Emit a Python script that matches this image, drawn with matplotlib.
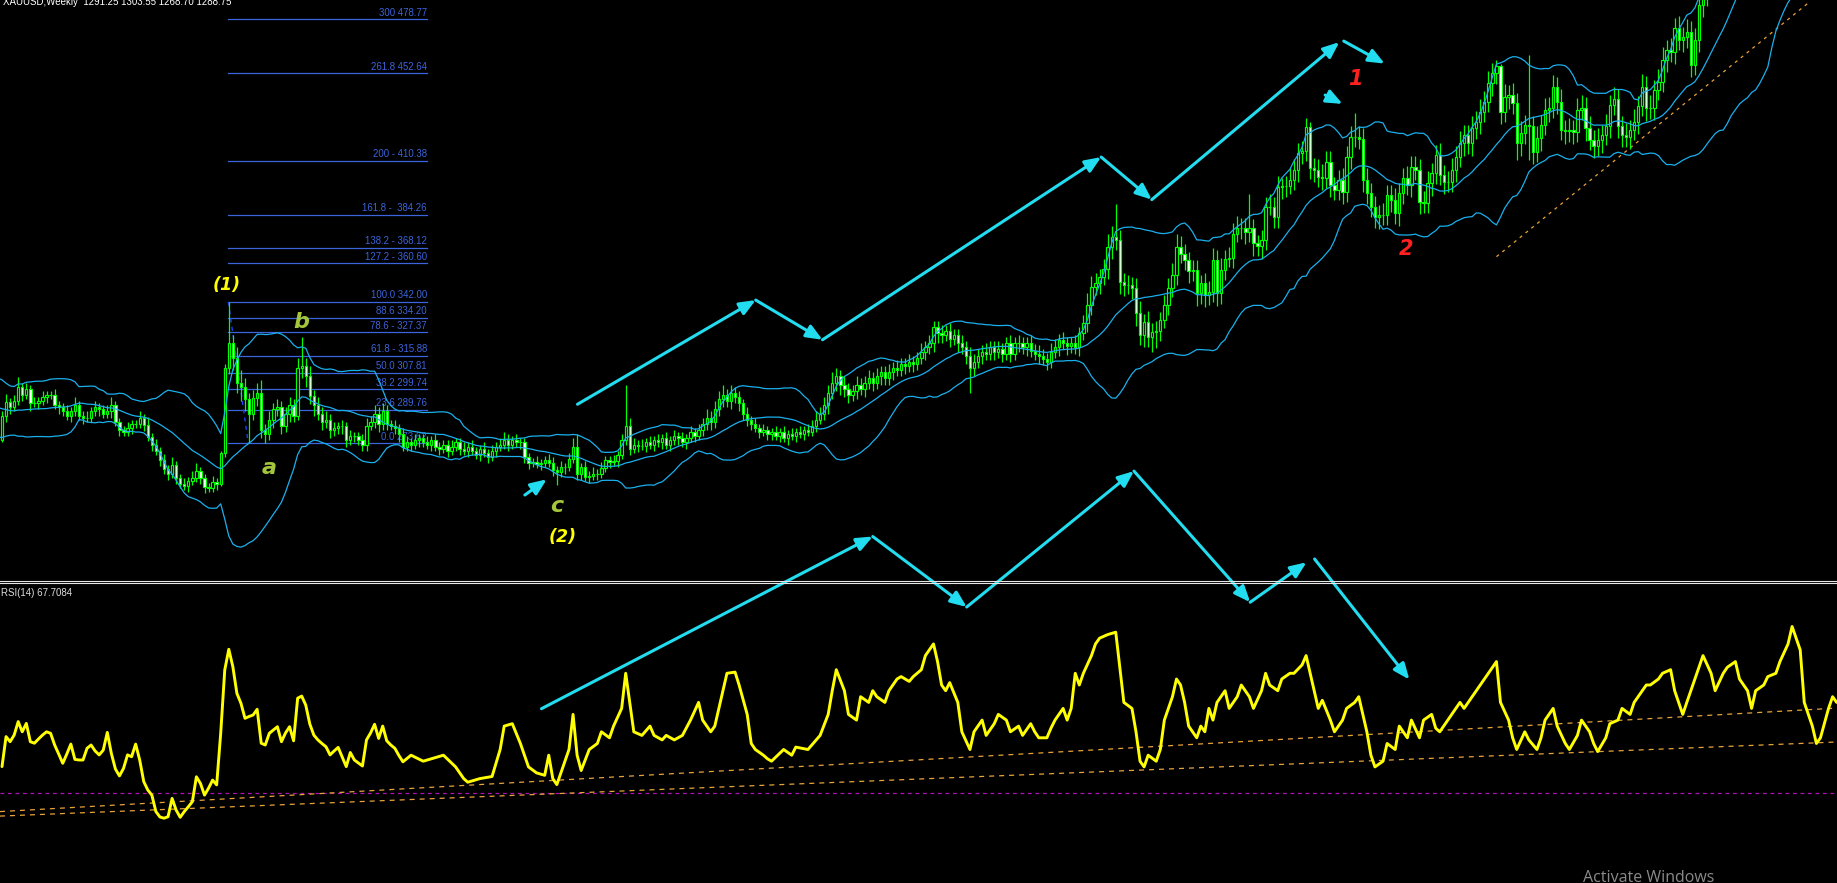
import numpy as np
import pandas as pd
import matplotlib
matplotlib.use("Agg")
import matplotlib.pyplot as plt
from matplotlib.lines import Line2D
from matplotlib.patches import FancyArrowPatch

W, H, DPI = 1837, 883, 100
PX_PER_WEEK = 4.05
X_OFFSET_PX = 2.0
TOP_PANEL_PX = 579
RSI_TOP_PX = 584
PRICE_TOP, PRICE_BOTTOM = 488.08, 207.96
RSI_TOP = (H - RSI_TOP_PX) / 3.0

# ------------------------------------------------------------------ data
first_week = -20
closes = [
    298, 303, 300, 296, 294, 297, 295, 291, 289, 293,
    296, 294, 291, 288, 289, 286, 284, 281, 278, 275,
    287, 293.6, 291, 294, 300.8, 297, 300, 293, 293, 294,
    296, 297, 297, 292, 291, 289, 287, 289, 292, 287,
    286, 286, 289, 291, 290, 288, 289, 292, 284, 280,
    279, 281, 283, 283, 286, 282.5, 276.5, 272.8, 270, 265.5,
    261, 259, 263, 257, 254, 253, 255.5, 257, 260, 257,
    252.5, 252, 255, 254, 269, 310, 322, 315, 303, 301,
    295, 288, 295.5, 298, 280, 278, 285, 290, 291, 282,
    288, 292, 287, 310, 311, 306, 296.5, 292, 288, 284,
    285, 280, 281, 282, 282, 275, 277, 277, 275, 273,
    282, 284, 288, 283, 289, 283, 282, 281, 278, 272,
    274, 273, 275, 276, 274, 273, 275, 272, 271, 273,
    270, 272, 274, 271, 270, 272, 270, 268, 271, 269,
    267, 270, 272, 273, 275, 273, 275, 274, 274, 267,
    264, 264.5, 263.5, 264, 265.5, 264, 260.7, 259.5, 262, 262,
    266, 272, 259, 262, 257.5, 258, 259, 259, 261.5, 265.5,
    264.5, 265, 268, 275, 282, 271, 273, 272.5, 272.5, 274,
    273, 275, 274, 276, 273, 275, 277, 276, 274, 276,
    279, 277, 280, 283, 286, 284, 290, 295, 297, 294,
    298, 296, 293, 288, 285, 283, 281, 279, 280, 278,
    279, 277, 279, 276, 278, 277, 279, 278, 280, 279,
    282, 285, 288, 292, 298, 303, 306, 302, 300, 297,
    299, 302, 300, 303, 305, 303, 306, 308, 305, 308,
    310, 309, 312, 311, 313, 312, 315, 318, 320, 322,
    330, 327, 326, 328, 324, 326, 322, 320, 316, 310,
    313, 316, 318, 317, 320, 318, 319, 317, 322, 317,
    322, 322, 320, 322, 318.5, 317, 316, 314.5, 313, 318,
    320, 323.6, 322, 320.5, 322, 320, 326.8, 331.7, 340.5, 349.4,
    351, 354, 358, 368.7, 373.6, 372, 351.8, 350, 350, 348.6,
    336.5, 326, 332.4, 325, 327.6, 328, 333.3, 340.5, 348.6, 355,
    368.7, 365, 362.3, 357, 357.5, 346.2, 351, 345.4, 346.9, 362.3,
    346.2, 357.5, 363, 363.5, 375, 377.6, 377.6, 376, 378, 370.4,
    369, 372, 388, 388, 383, 397.8, 398, 398, 401, 406,
    413.9, 415, 426.8, 406.6, 406, 402.6, 402, 409.9, 398.6, 396.2,
    401, 395.3, 412.3, 421.9, 422, 421, 401, 394.6, 388.1, 383.2,
    384, 384, 393.7, 391.3, 384.9, 394.6, 401.8, 398.6, 407.4, 406,
    390.5, 390, 399.4, 404.2, 413.1, 403.4, 400.2, 400, 405.8, 412.3,
    418.7, 422.8, 418.7, 426, 429.2, 434, 438.9, 447.8, 452.6, 456,
    434, 441.3, 442, 438.1, 418.7, 423.6, 427.6, 427, 414.7, 421.2,
    427.6, 434.9, 436, 446, 438.9, 425.2, 424.6, 425, 424.4, 434.9,
    436, 426, 420.3, 417.5, 420.3, 422.8, 427.1, 437.3, 440, 427.1,
    422.8, 422, 425.2, 429.2, 436.8, 446.1, 435.7, 436, 444.5, 448.5,
    459.1, 463.9, 463.1, 474.4, 468.7, 470, 472.8, 456.6, 468.7, 485.7,
    492, 497, 503, 508, 514, 520, 524, 530, 537, 543,
    548, 555, 560, 566, 572, 578, 585, 590, 597, 605,
    615, 628, 645, 640, 622, 600, 590, 580, 570, 575,
    585, 595, 590, 598,
]
upper_wicks = [
    2, 3, 2, 2, 1, 3, 2, 2, 1, 2,
    3, 2, 2, 1, 2, 2, 3, 1, 2, 2,
    2, 4, 2, 3, 5, 2, 3, 2, 3, 2,
    3, 2, 2, 3, 2, 2, 3, 2, 4, 2,
    2, 3, 2, 3, 2, 2, 3, 4, 2, 2,
    2, 3, 2, 2, 3, 2, 4, 2, 3, 2,
    3, 2, 4, 2, 2, 3, 2, 3, 4, 2,
    2, 2, 3, 2, 1, 2, 20, 4, 5, 6,
    4, 3, 4, 5, 6, 3, 4, 3, 4, 3,
    3, 4, 3, 5, 14, 4, 5, 3, 4, 3,
    4, 3, 3, 2, 3, 2, 3, 2, 2, 3,
    4, 3, 4, 3, 4, 3, 2, 3, 2, 3,
    3, 2, 3, 2, 2, 3, 2, 3, 2, 2,
    2, 3, 2, 2, 3, 2, 3, 2, 2, 3,
    2, 3, 2, 3, 4, 3, 2, 3, 2, 2,
    2, 2, 3, 2, 2, 3, 3, 2, 3, 2,
    3, 4, 6, 2, 3, 2, 3, 2, 3, 2,
    2, 3, 2, 3, 20, 4, 3, 2, 3, 2,
    3, 2, 3, 2, 3, 2, 3, 2, 3, 2,
    3, 2, 3, 3, 4, 3, 4, 4, 5, 3,
    4, 3, 3, 2, 3, 2, 3, 2, 3, 2,
    2, 3, 2, 3, 2, 3, 2, 3, 2, 3,
    3, 4, 3, 4, 4, 5, 4, 3, 4, 3,
    3, 4, 3, 3, 4, 3, 4, 3, 3, 4,
    3, 4, 3, 3, 4, 3, 3, 4, 3, 4,
    3, 3, 4, 3, 4, 3, 3, 4, 3, 4,
    4, 3, 3, 4, 3, 3, 4, 3, 3, 4,
    3, 4, 3, 3, 4, 3, 4, 3, 3, 4,
    4, 3, 4, 3, 3, 4, 3, 4, 6, 5,
    5, 4, 5, 6, 5, 16, 5, 4, 5, 4,
    5, 6, 4, 5, 4, 5, 4, 5, 5, 6,
    6, 5, 5, 4, 5, 5, 4, 5, 5, 6,
    5, 6, 4, 5, 5, 6, 5, 5, 16, 4,
    4, 5, 5, 6, 5, 5, 4, 5, 6, 5,
    5, 5, 4, 2.4, 5, 5, 6, 5, 5, 4,
    5, 6, 5, 5, 11.3, 5, 5, 6, 5, 5,
    5, 6, 5, 5, 6, 5, 5, 6, 5, 5,
    5, 5, 6, 5, 5, 6, 5, 5, 6, 5,
    6, 5, 5, 6, 5, 6, 5, 6, 5, 3,
    1, 6, 5, 6, 5, 6, 5, 34, 5, 6,
    5, 6, 5, 6, 5, 6, 5, 6, 5, 6,
    6, 5, 6, 5, 6, 5, 6, 5, 6, 5,
    5, 6, 5, 6, 5, 6, 5, 6, 5, 6,
    6, 5, 6, 5, 6, 5, 6, 5, 6, 5,
    6, 6, 7, 6, 7, 6, 7, 6, 7, 6,
    7, 6, 7, 6, 7, 6, 7, 6, 7, 8,
    8, 9, 10, 9, 8, 9, 8, 9, 8, 9,
    8, 9, 8, 9,
]
lower_wicks = [
    2, 1, 2, 3, 2, 1, 2, 3, 2, 1,
    2, 2, 1, 3, 2, 2, 1, 2, 3, 2,
    1, 3, 3, 2, 2, 3, 2, 4, 2, 3,
    2, 3, 2, 2, 3, 2, 2, 3, 2, 2,
    3, 2, 2, 2, 3, 2, 2, 3, 2, 3,
    2, 2, 3, 2, 2, 3, 2, 3, 2, 3,
    2, 3, 2, 3, 2, 2, 3, 2, 2, 3,
    3, 2, 2, 3, 1, 2, 3, 6, 5, 7,
    6, 14.4, 3, 4, 4, 4.4, 3, 4, 3, 4,
    3, 4, 3, 2, 5, 5, 4, 5, 3, 4,
    3, 4, 3, 3, 4, 3, 2, 3, 2, 3,
    3, 2, 3, 4, 3, 3, 2, 3, 4, 2,
    2, 3, 2, 3, 2, 2, 3, 2, 3, 2,
    3, 2, 2, 3, 2, 3, 2, 2, 3, 2,
    3, 2, 3, 2, 2, 3, 2, 2, 3, 3,
    3, 2, 2, 3, 2, 2, 3, 6, 2, 3,
    2, 2, 3, 3, 2, 3, 2, 3, 2, 2,
    3, 2, 3, 2, 2, 3, 2, 3, 2, 3,
    2, 3, 2, 3, 2, 3, 2, 3, 2, 3,
    2, 3, 2, 3, 3, 4, 3, 3, 4, 3,
    4, 3, 4, 3, 3, 3, 2, 3, 2, 3,
    3, 2, 3, 2, 3, 2, 3, 2, 3, 2,
    2, 3, 2, 3, 4, 3, 4, 5, 4, 4,
    3, 4, 3, 4, 3, 4, 3, 4, 3, 3,
    4, 3, 3, 4, 3, 4, 3, 3, 4, 3,
    4, 5, 4, 3, 4, 3, 4, 3, 4, 12,
    4, 3, 4, 3, 3, 4, 3, 4, 3, 4,
    3, 4, 3, 4, 3, 3, 4, 3, 4, 3,
    3, 4, 3, 4, 3, 3, 4, 3, 4, 5,
    4, 5, 4, 5, 6, 5, 6, 5, 4, 5,
    6, 5, 6, 5, 7, 8, 5, 4, 5, 4,
    5, 4, 5, 6, 5, 6, 5, 6, 5, 5,
    6, 5, 5, 4, 5, 4, 5, 6, 5, 6,
    5, 6, 5, 4, 5, 5, 6, 5, 4, 5,
    6, 5, 5, 5, 6, 5, 6, 5, 6, 5,
    5, 6, 5, 6, 5, 5, 6, 5, 5, 5.5,
    6, 5, 5, 6, 5, 6, 5, 5, 6, 5,
    6, 5, 5, 6, 5, 5, 6, 5, 5, 6,
    5, 6, 5, 6, 5, 6, 5, 5, 6, 5,
    6, 5, 6, 5, 8, 6, 5, 16.3, 6, 5,
    6, 5, 6, 5, 6, 5, 6, 5, 6, 5,
    5, 6, 5, 6, 5, 6, 5, 6, 5, 6,
    6, 5, 6, 5, 6, 5, 6, 5, 6, 5,
    5, 6, 5, 6, 5, 6, 5, 6, 5, 6,
    6, 7, 6, 7, 6, 7, 6, 7, 6, 7,
    7, 6, 7, 6, 7, 6, 7, 6, 7, 8,
    9, 8, 9, 10, 9, 8, 9, 8, 9, 8,
    9, 8, 9, 8,
]

rsi_early_values = [
    38.8, 48.8, 47.1, 49.3, 53.8, 50.4, 53.2, 47.1, 46.6, 48.0,
    49.3, 50.4, 49.9, 46.0, 43.0, 39.9, 43.0, 46.3, 41.2, 41.0,
    41.0, 44.9, 46.0, 44.0, 42.7, 44.3, 50.2, 43.2, 38.0, 35.7,
    38.2, 42.7, 42.1, 46.3, 41.0, 33.8, 31.0, 29.3, 23.8, 22.0,
    21.6, 22.1, 28.2, 24.3, 21.9, 23.8, 25.4, 27.1, 35.4, 33.2,
    29.3, 31.6, 34.3, 32.7, 49.9, 71.0, 77.9, 72.1, 63.2, 59.9,
    54.9, 55.5, 56.0, 57.9, 46.6, 46.0, 49.9, 51.0, 52.1, 47.1,
    50.0, 52.1, 47.4, 61.6, 62.3, 59.3, 53.0, 49.3, 47.7, 46.5,
    45.4, 42.7, 44.0, 45.2, 42.0, 38.8, 43.5, 41.0, 40.0, 39.0,
    47.7, 50.0, 52.9, 48.2, 52.3, 47.4, 46.0, 44.9, 42.5, 40.4,
]
rsi_late_weeks = [
    101, 104, 106, 109, 112, 114, 115, 118, 121, 123,
    124, 126, 128, 130, 132, 134, 135, 136, 137, 138,
    140, 141, 142, 143, 145, 147, 148, 150, 151, 153,
    154, 155, 156, 158, 160, 161, 163, 164, 166, 168,
    170, 172, 173, 175, 176, 178, 179, 181, 182, 184,
    185, 186, 188, 189, 190, 193, 195, 196, 199, 202,
    204, 205, 206, 208, 209, 211, 212, 214, 215, 216,
    218, 219, 221, 222, 224, 225, 227, 228, 230, 231,
    232, 233, 234, 236, 237, 239, 240, 242, 243, 245,
    246, 248, 249, 251, 252, 254, 255, 256, 258, 259,
    260, 262, 263, 264, 265, 266, 267, 269, 270, 271,
    273, 275, 276, 277, 279, 280, 281, 282, 283, 285,
    286, 287, 289, 290, 291, 292, 293, 295, 296, 297,
    298, 299, 300, 302, 303, 305, 306, 308, 309, 311,
    312, 313, 315, 316, 318, 319, 321, 322, 324, 325,
    326, 328, 329, 331, 332, 334, 335, 337, 338, 339,
    341, 342, 344, 345, 347, 348, 350, 351, 353, 354,
    355, 357, 358, 360, 361, 363, 364, 366, 368, 369,
    370, 372, 373, 374, 376, 377, 379, 380, 381, 383,
    384, 386, 387, 389, 390, 392, 393, 394, 396, 397,
    399, 400, 402, 403, 405, 406, 407, 409, 410, 412,
    413, 415, 416, 418, 419, 420, 422, 423, 425, 426,
    428, 429, 431, 432, 433, 435, 436, 438, 439, 441,
    442, 444, 445, 447, 448, 449, 451, 452, 453,
]
rsi_late_values = [
    42.6, 40.6, 41.4, 42.6, 38.7, 34.8, 33.6, 34.8, 35.5, 44.5,
    52.3, 53.1, 46.5, 38.7, 36.7, 35.9, 42.6, 34.8, 32.8, 36.7,
    44.5, 56.2, 42.6, 37.5, 44.5, 46.5, 50.4, 48.4, 52.3, 58.2,
    69.9, 60.2, 50.4, 49.2, 52.3, 49.2, 47.7, 49.2, 47.7, 49.2,
    54.3, 60.2, 54.3, 50.4, 52.3, 64.1, 69.9, 70.3, 66.0, 56.2,
    46.5, 44.5, 42.6, 41.4, 40.6, 44.5, 42.6, 45.3, 44.5, 49.2,
    56.2, 64.1, 71.1, 64.1, 56.2, 54.3, 62.1, 60.2, 64.1, 62.1,
    60.2, 64.1, 68.0, 68.8, 67.2, 68.8, 71.1, 75.8, 79.7, 73.8,
    66.0, 64.1, 66.8, 60.2, 50.4, 44.5, 50.4, 54.3, 49.2, 53.1,
    56.2, 54.3, 50.4, 52.3, 49.2, 53.1, 50.4, 48.4, 48.4, 51.6,
    54.3, 58.2, 54.3, 58.2, 69.9, 66.0, 69.9, 75.8, 79.7, 81.6,
    82.8, 83.6, 71.9, 60.2, 58.2, 50.4, 40.6, 38.7, 42.6, 40.6,
    44.5, 54.3, 62.1, 68.0, 66.0, 60.2, 52.3, 48.4, 52.3, 50.4,
    58.2, 54.3, 60.2, 64.1, 58.2, 62.1, 66.0, 62.1, 58.2, 64.1,
    69.9, 66.0, 64.1, 68.0, 69.9, 69.9, 72.7, 75.8, 64.1, 58.2,
    60.9, 54.3, 50.4, 54.3, 58.2, 60.2, 62.1, 50.4, 42.6, 38.7,
    40.6, 46.5, 44.5, 52.3, 48.4, 54.3, 48.4, 54.3, 56.2, 51.6,
    50.4, 54.3, 56.2, 60.2, 58.2, 62.1, 64.1, 68.0, 71.9, 73.8,
    60.2, 54.3, 48.4, 44.5, 50.4, 47.7, 44.5, 48.4, 54.3, 58.2,
    52.3, 46.5, 44.5, 49.2, 54.3, 50.4, 46.5, 43.8, 48.4, 53.1,
    54.3, 58.2, 56.2, 60.2, 64.1, 66.0, 66.0, 68.0, 69.9, 71.1,
    64.1, 56.2, 60.2, 68.0, 71.9, 75.8, 69.9, 64.1, 69.9, 71.9,
    73.8, 68.0, 64.1, 58.2, 64.1, 66.0, 68.8, 69.9, 73.8, 79.7,
    85.5, 77.7, 60.2, 52.3, 46.5, 48.4, 58.2, 62.1, 60.2,
]

fib_prices = [478.77, 452.64, 410.38, 384.26, 368.12, 360.60, 342.00,
              334.20, 327.37, 315.88, 307.81, 299.74, 289.76, 273.62]
fib_labels = ["300 478.77", "261.8 452.64", "200 - 410.38", "161.8 -  384.26",
              "138.2 - 368.12", "127.2 - 360.60", "100.0 342.00", "88.6 334.20",
              "78.6 - 327.37", "61.8 - 315.88", "50.0 307.81", "38.2 299.74",
              "23.6 289.76", "0.0 273.62"]
fib_weeks = [55.9, 104.9]
fib_swing_weeks = [55.9, 60.8]
fib_swing_prices = [342.0, 273.62]

price_trend_weeks = [369.0, 446.4]
price_trend_prices = [363.9, 487.3]
rsi_trend_weeks = [-0.5, 453.0]
rsi_trend_a = [23.8, 58.3]
rsi_trend_b = [22.3, 47.0]

wave_weeks = [142.1, 186.1, 202.6, 271.4, 283.9, 330.2]
wave_prices = [292.5, 342.9, 323.7, 412.1, 391.5, 467.7]
wave_down_weeks = [331.3, 341.4]
wave_down_prices = [468.2, 457.3]
pointer1_weeks = [326.7, 331.0]
pointer1_prices = [442.1, 437.8]
pointerc_weeks = [129.1, 134.5]
pointerc_prices = [248.6, 256.2]
rsi_wave_weeks = [133.2, 215.0, 238.2, 279.5, 308.2, 322.1]
rsi_wave_values = [58.1, 115.5, 92.0, 137.3, 93.6, 106.9]
rsi_down_weeks = [324.1, 347.5]
rsi_down_values = [108.0, 67.8]

wave_labels = ["(1)", "b", "a", "c", "(2)", "1", "2"]
label_weeks = [55.6, 74.0, 65.9, 137.0, 138.5, 334.1, 346.8]
label_prices = [350.3, 332.2, 261.6, 243.3, 228.3, 449.9, 367.6]
label_colors = ["#ffff00", "#a4c63a", "#a4c63a", "#a4c63a", "#ffff00", "#ff2020", "#ff2020"]
label_sizes = [12.5, 16, 16, 16, 12.5, 15, 15]

# ------------------------------------------------------------------ styles
LIME = "#00ff00"
BAND = "#1ab0ee"
FIB = "#3c64dc"
CYAN = "#22dcf0"
SMALL_FONT = ["Liberation Sans", "DejaVu Sans"]

fig = plt.figure(figsize=(W / DPI, H / DPI), dpi=DPI, facecolor="black")
ax = fig.add_axes([0, 1 - TOP_PANEL_PX / H, 1, TOP_PANEL_PX / H])
ax2 = fig.add_axes([0, 0, 1, (H - RSI_TOP_PX) / H])
xlim = (-X_OFFSET_PX / PX_PER_WEEK, (W - X_OFFSET_PX) / PX_PER_WEEK)
for a in (ax, ax2):
    a.set_facecolor("black")
    a.set_xlim(*xlim)
    a.set_axis_off()
ax.set_ylim(PRICE_BOTTOM, PRICE_TOP)
ax2.set_ylim(0, RSI_TOP)

# ---- candles
weeks = np.arange(first_week, first_week + len(closes))
c = np.asarray(closes, float)
o = np.r_[c[0], c[:-1]]
hi = np.maximum(o, c) + np.asarray(upper_wicks, float)
lo = np.minimum(o, c) - np.asarray(lower_wicks, float)
bull = c >= o
ax.vlines(weeks, lo, hi, colors=LIME, lw=0.9, zorder=3)
ax.bar(weeks, np.abs(c - o), bottom=np.minimum(o, c), width=0.58,
       color=["black" if b else "white" for b in bull], edgecolor=LIME,
       linewidth=0.85, zorder=4)

# ---- Bollinger bands (20, 2)
s = pd.Series(c)
mid = s.rolling(20).mean()
sd = s.rolling(20).std(ddof=0)
for band in (mid + 2 * sd, mid, mid - 2 * sd):
    ax.plot(weeks, band, color=BAND, lw=0.9, zorder=5)

# ---- Fibonacci
for p, lab in zip(fib_prices, fib_labels):
    ax.plot(fib_weeks, [p, p], color=FIB, lw=0.9, zorder=1)
    ax.annotate(lab, (fib_weeks[1], p), xytext=(0, 1.2), textcoords="offset points",
                ha="right", va="bottom", color=FIB, fontsize=6.9,
                family=SMALL_FONT, zorder=1)
ax.plot(fib_swing_weeks, fib_swing_prices, color="#1e3cff", lw=1.0,
        ls=(0, (3, 3)), zorder=2)

# ---- trend line
ax.plot(price_trend_weeks, price_trend_prices, color="#e8a33a", lw=0.9,
        ls=(0, (2.5, 3.5)), zorder=2)

# ---- arrows
def arrow(axis, xs, ys):
    for k in range(len(xs) - 1):
        p = FancyArrowPatch((xs[k], ys[k]), (xs[k + 1], ys[k + 1]),
                            arrowstyle="-|>,head_length=0.6,head_width=0.25",
                            mutation_scale=16, color=CYAN, lw=2.2,
                            shrinkA=0, shrinkB=0, clip_on=False, zorder=8)
        axis.add_patch(p)

arrow(ax, wave_weeks, wave_prices)
arrow(ax, wave_down_weeks, wave_down_prices)
arrow(ax, pointer1_weeks, pointer1_prices)
arrow(ax, pointerc_weeks, pointerc_prices)

# ---- wave labels
for t, x, y, col, fs in zip(wave_labels, label_weeks, label_prices, label_colors, label_sizes):
    ax.text(x, y, t, color=col, fontsize=fs, fontweight="bold", fontstyle="italic",
            ha="center", va="center", family="DejaVu Sans", zorder=9)

# ---- RSI panel
ax2.axhline(30, color="#b010b8", lw=0.9, ls=(0, (3, 3)), zorder=1)
ax2.plot(rsi_trend_weeks, rsi_trend_a, color="#e8a33a", lw=0.9, ls=(0, (4, 4)), zorder=1)
ax2.plot(rsi_trend_weeks, rsi_trend_b, color="#e8a33a", lw=0.9, ls=(0, (4, 4)), zorder=1)
rsi_weeks = list(range(len(rsi_early_values))) + rsi_late_weeks
rsi_values = rsi_early_values + rsi_late_values
ax2.plot(rsi_weeks, rsi_values, color="#ffff00", lw=2.1, zorder=3,
         solid_joinstyle="round", solid_capstyle="round")
arrow(ax2, rsi_wave_weeks, rsi_wave_values)
arrow(ax2, rsi_down_weeks, rsi_down_values)

# ---- separators and texts
for ypx in (580.5, 583.0):
    fig.add_artist(Line2D([0, 1], [1 - ypx / H] * 2, color="#e6e6e6", lw=0.8,
                          transform=fig.transFigure))
fig.text(3 / W, 1 - 5 / H, "XAUUSD,Weekly  1291.25 1303.55 1268.70 1288.75",
         color="white", fontsize=7, va="baseline", ha="left", family=SMALL_FONT)
fig.text(1 / W, 1 - 595.5 / H, "RSI(14) 67.7084", color="#dcdcdc",
         fontsize=7, va="baseline", ha="left", family=SMALL_FONT)
fig.text(1583 / W, 1 - 881.5 / H, "Activate Windows", color="#8a8a8a",
         fontsize=11.5, va="baseline", ha="left", family=["Open Sans", "DejaVu Sans"])

fig.savefig("out.png", dpi=DPI, facecolor="black")
